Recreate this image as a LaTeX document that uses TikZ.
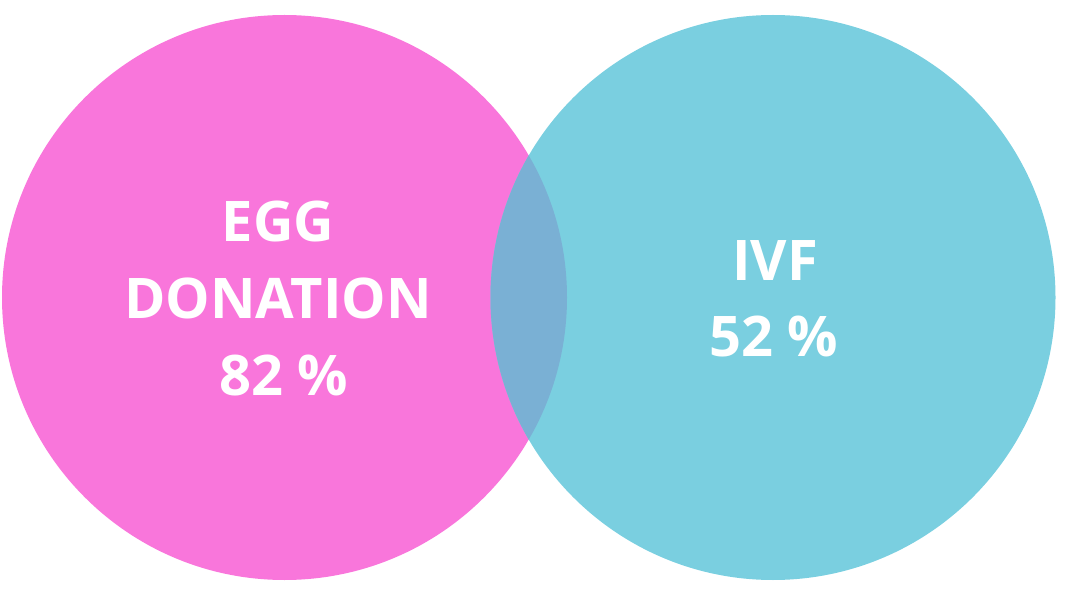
\documentclass[tikz,border=0pt]{standalone}
\usepackage{fontspec}
\setmainfont{Open Sans}
\definecolor{pinkc}{HTML}{F976DB}
\definecolor{cyanc}{HTML}{7ACFE0}
\definecolor{overc}{HTML}{7AB0D4}
\begin{document}
\begin{tikzpicture}[x=1pt,y=-1pt,
  lbl/.style={text=white,font=\fontsize{56}{60}\selectfont\bfseries,inner sep=0pt,anchor=base}]
\useasboundingbox (0,0) rectangle (1069,604);
\fill[pinkc] (284.5,297.5) circle (282.5);
\fill[cyanc] (773,297.5) circle (282.5);
\begin{scope}
\clip (284.5,297.5) circle (282.5);
\fill[overc] (773,297.5) circle (282.5);
\end{scope}
\node[lbl] (egg) at (278,241.7) {EGG};
\node[lbl] (don) at (278,318.5) {DONATION};
\node[lbl] (p82) at (284,395) {82 \%};
\node[lbl] (ivf) at (775,280) {IVF};
\node[lbl] (p52) at (774,356.7) {52 \%};
\end{tikzpicture}
\end{document}
